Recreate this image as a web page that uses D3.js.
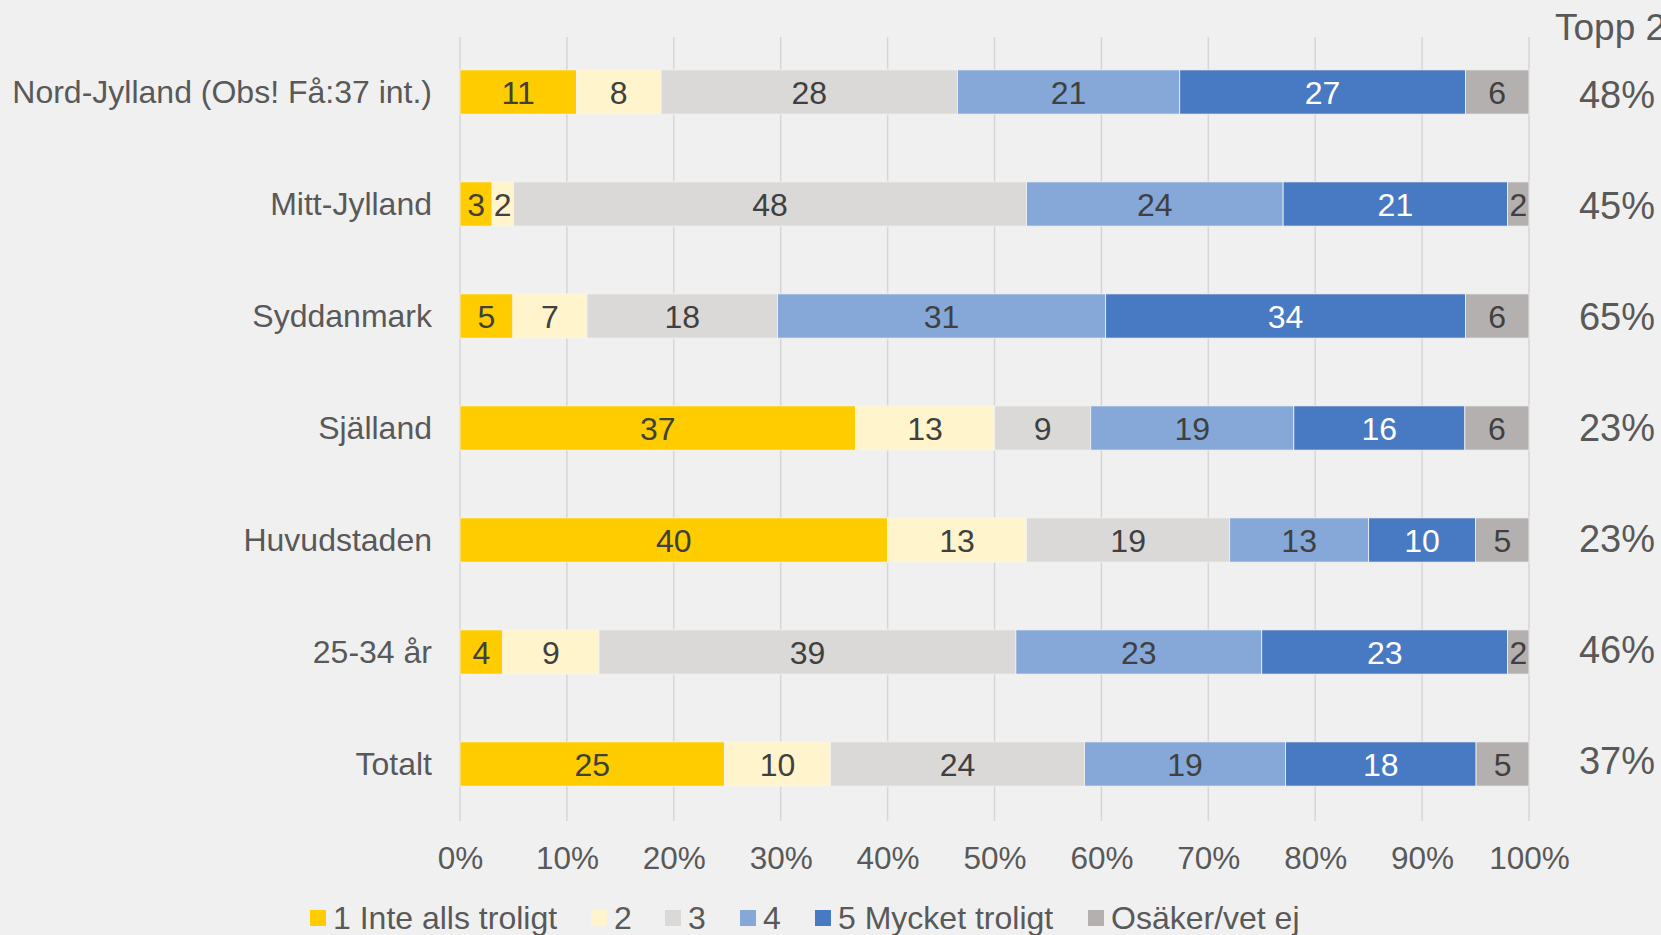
<!DOCTYPE html>
<html>
<head>
<meta charset="utf-8">
<script src="https://cdn.jsdelivr.net/npm/d3@7"></script>
<style>
  html, body { margin: 0; padding: 0; background: #f0f0f0; }
  svg { display: block; }
  text { font-family: "Liberation Sans", Arial, sans-serif; }
</style>
</head>
<body>
<svg id="chart" width="1661" height="935"></svg>
<script>
// ---- Data ----
const categories = ["Nord-Jylland (Obs! Få:37 int.)", "Mitt-Jylland", "Syddanmark", "Själland", "Huvudstaden", "25-34 år", "Totalt"];
const seriesNames = ["1 Inte alls troligt", "2", "3", "4", "5 Mycket troligt", "Osäker/vet ej"];
const s1 = [11, 3, 5, 37, 40, 4, 25];
const s2 = [8, 2, 7, 13, 13, 9, 10];
const s3 = [28, 48, 18, 9, 19, 39, 24];
const s4 = [21, 24, 31, 19, 13, 23, 19];
const s5 = [27, 21, 34, 16, 10, 23, 18];
const s6 = [6, 2, 6, 6, 5, 2, 5];
const topp2 = ["48%", "45%", "65%", "23%", "23%", "46%", "37%"];
const topp2Header = "Topp 2";
const tickValues = [0, 0.1, 0.2, 0.3, 0.4, 0.5, 0.6, 0.7, 0.8, 0.9, 1];

const colors = ["#FFCC00", "#FFF4CC", "#DAD9D7", "#85A8D8", "#4879C3", "#B4B0AF"];
const labelColors = ["#404040", "#404040", "#404040", "#404040", "#ffffff", "#404040"];

const allSeries = [s1, s2, s3, s4, s5, s6];

// build normalized stack (100% stacked)
const rows = categories.map((c, i) => {
  const vals = allSeries.map(s => s[i]);
  const total = d3.sum(vals);
  let acc = 0;
  return vals.map((v, k) => {
    const seg = { cat: c, k, v, x0: acc / total, x1: (acc + v) / total };
    acc += v;
    return seg;
  });
});

const svg = d3.select("#chart");
const plotLeft = 460, plotRight = 1529, plotTop = 37, plotBottom = 821;

const x = d3.scaleLinear().domain([0, 1]).range([plotLeft, plotRight]);
const y = d3.scaleBand().domain(categories).range([plotTop - 1, plotBottom - 1]).paddingInner(0.605).paddingOuter(0.3025);
const yTopp = d3.scalePoint().domain(categories).range([95, 761]);

// gridlines
svg.append("g").selectAll("line").data(tickValues).join("line")
  .attr("x1", d => x(d)).attr("x2", d => x(d))
  .attr("y1", plotTop).attr("y2", plotBottom)
  .attr("stroke", "#d6d6d6").attr("stroke-width", 1.5);

// x axis labels
const xAxis = d3.axisBottom(x).tickValues(tickValues).tickFormat(d3.format(".0%")).tickSize(0).tickPadding(0);
const gx = svg.append("g").attr("transform", `translate(0, ${plotBottom})`).call(xAxis);
gx.select(".domain").remove();
gx.selectAll("text").attr("font-size", 31.5).attr("fill", "#595959")
  .attr("font-family", "Liberation Sans, Arial, sans-serif").attr("dy", null).attr("y", 48);

// bars
const g = svg.append("g");
rows.forEach(row => {
  row.forEach(seg => {
    g.append("rect")
      .attr("x", x(seg.x0)).attr("width", x(seg.x1) - x(seg.x0))
      .attr("y", y(seg.cat)).attr("height", y.bandwidth())
      .attr("fill", colors[seg.k])
      .attr("stroke", "#f3f3f3").attr("stroke-width", 0.8);
    g.append("text")
      .attr("x", (x(seg.x0) + x(seg.x1)) / 2)
      .attr("y", y(seg.cat) + y.bandwidth() / 2 + 11.5)
      .attr("text-anchor", "middle")
      .attr("font-size", 32)
      .attr("fill", labelColors[seg.k])
      .text(seg.v);
  });
});

// category labels
const yAxis = d3.axisLeft(y).tickSize(0).tickPadding(28);
const gy = svg.append("g").attr("transform", `translate(${plotLeft}, 0)`).call(yAxis);
gy.select(".domain").remove();
gy.selectAll("text").attr("font-size", 32).attr("fill", "#595959")
  .attr("font-family", "Liberation Sans, Arial, sans-serif").attr("dy", "0.35em");

// Topp 2 column
svg.append("text").attr("x", 1555).attr("y", 40).attr("font-size", 37).attr("fill", "#595959").text(topp2Header);
svg.append("g").selectAll("text").data(categories).join("text")
  .attr("x", 1617).attr("y", (d) => yTopp(d) + 13)
  .attr("text-anchor", "middle").attr("font-size", 38).attr("fill", "#595959")
  .text((d, i) => topp2[i]);

// legend
const legendX = [310, 591, 665, 740, 815, 1088];
const lg = svg.append("g");
seriesNames.forEach((n, i) => {
  lg.append("rect").attr("x", legendX[i]).attr("y", 910).attr("width", 16).attr("height", 16).attr("fill", colors[i]);
  lg.append("text").attr("x", legendX[i] + 23).attr("y", 929).attr("font-size", 32).attr("fill", "#595959").text(n);
});
</script>
</body>
</html>
